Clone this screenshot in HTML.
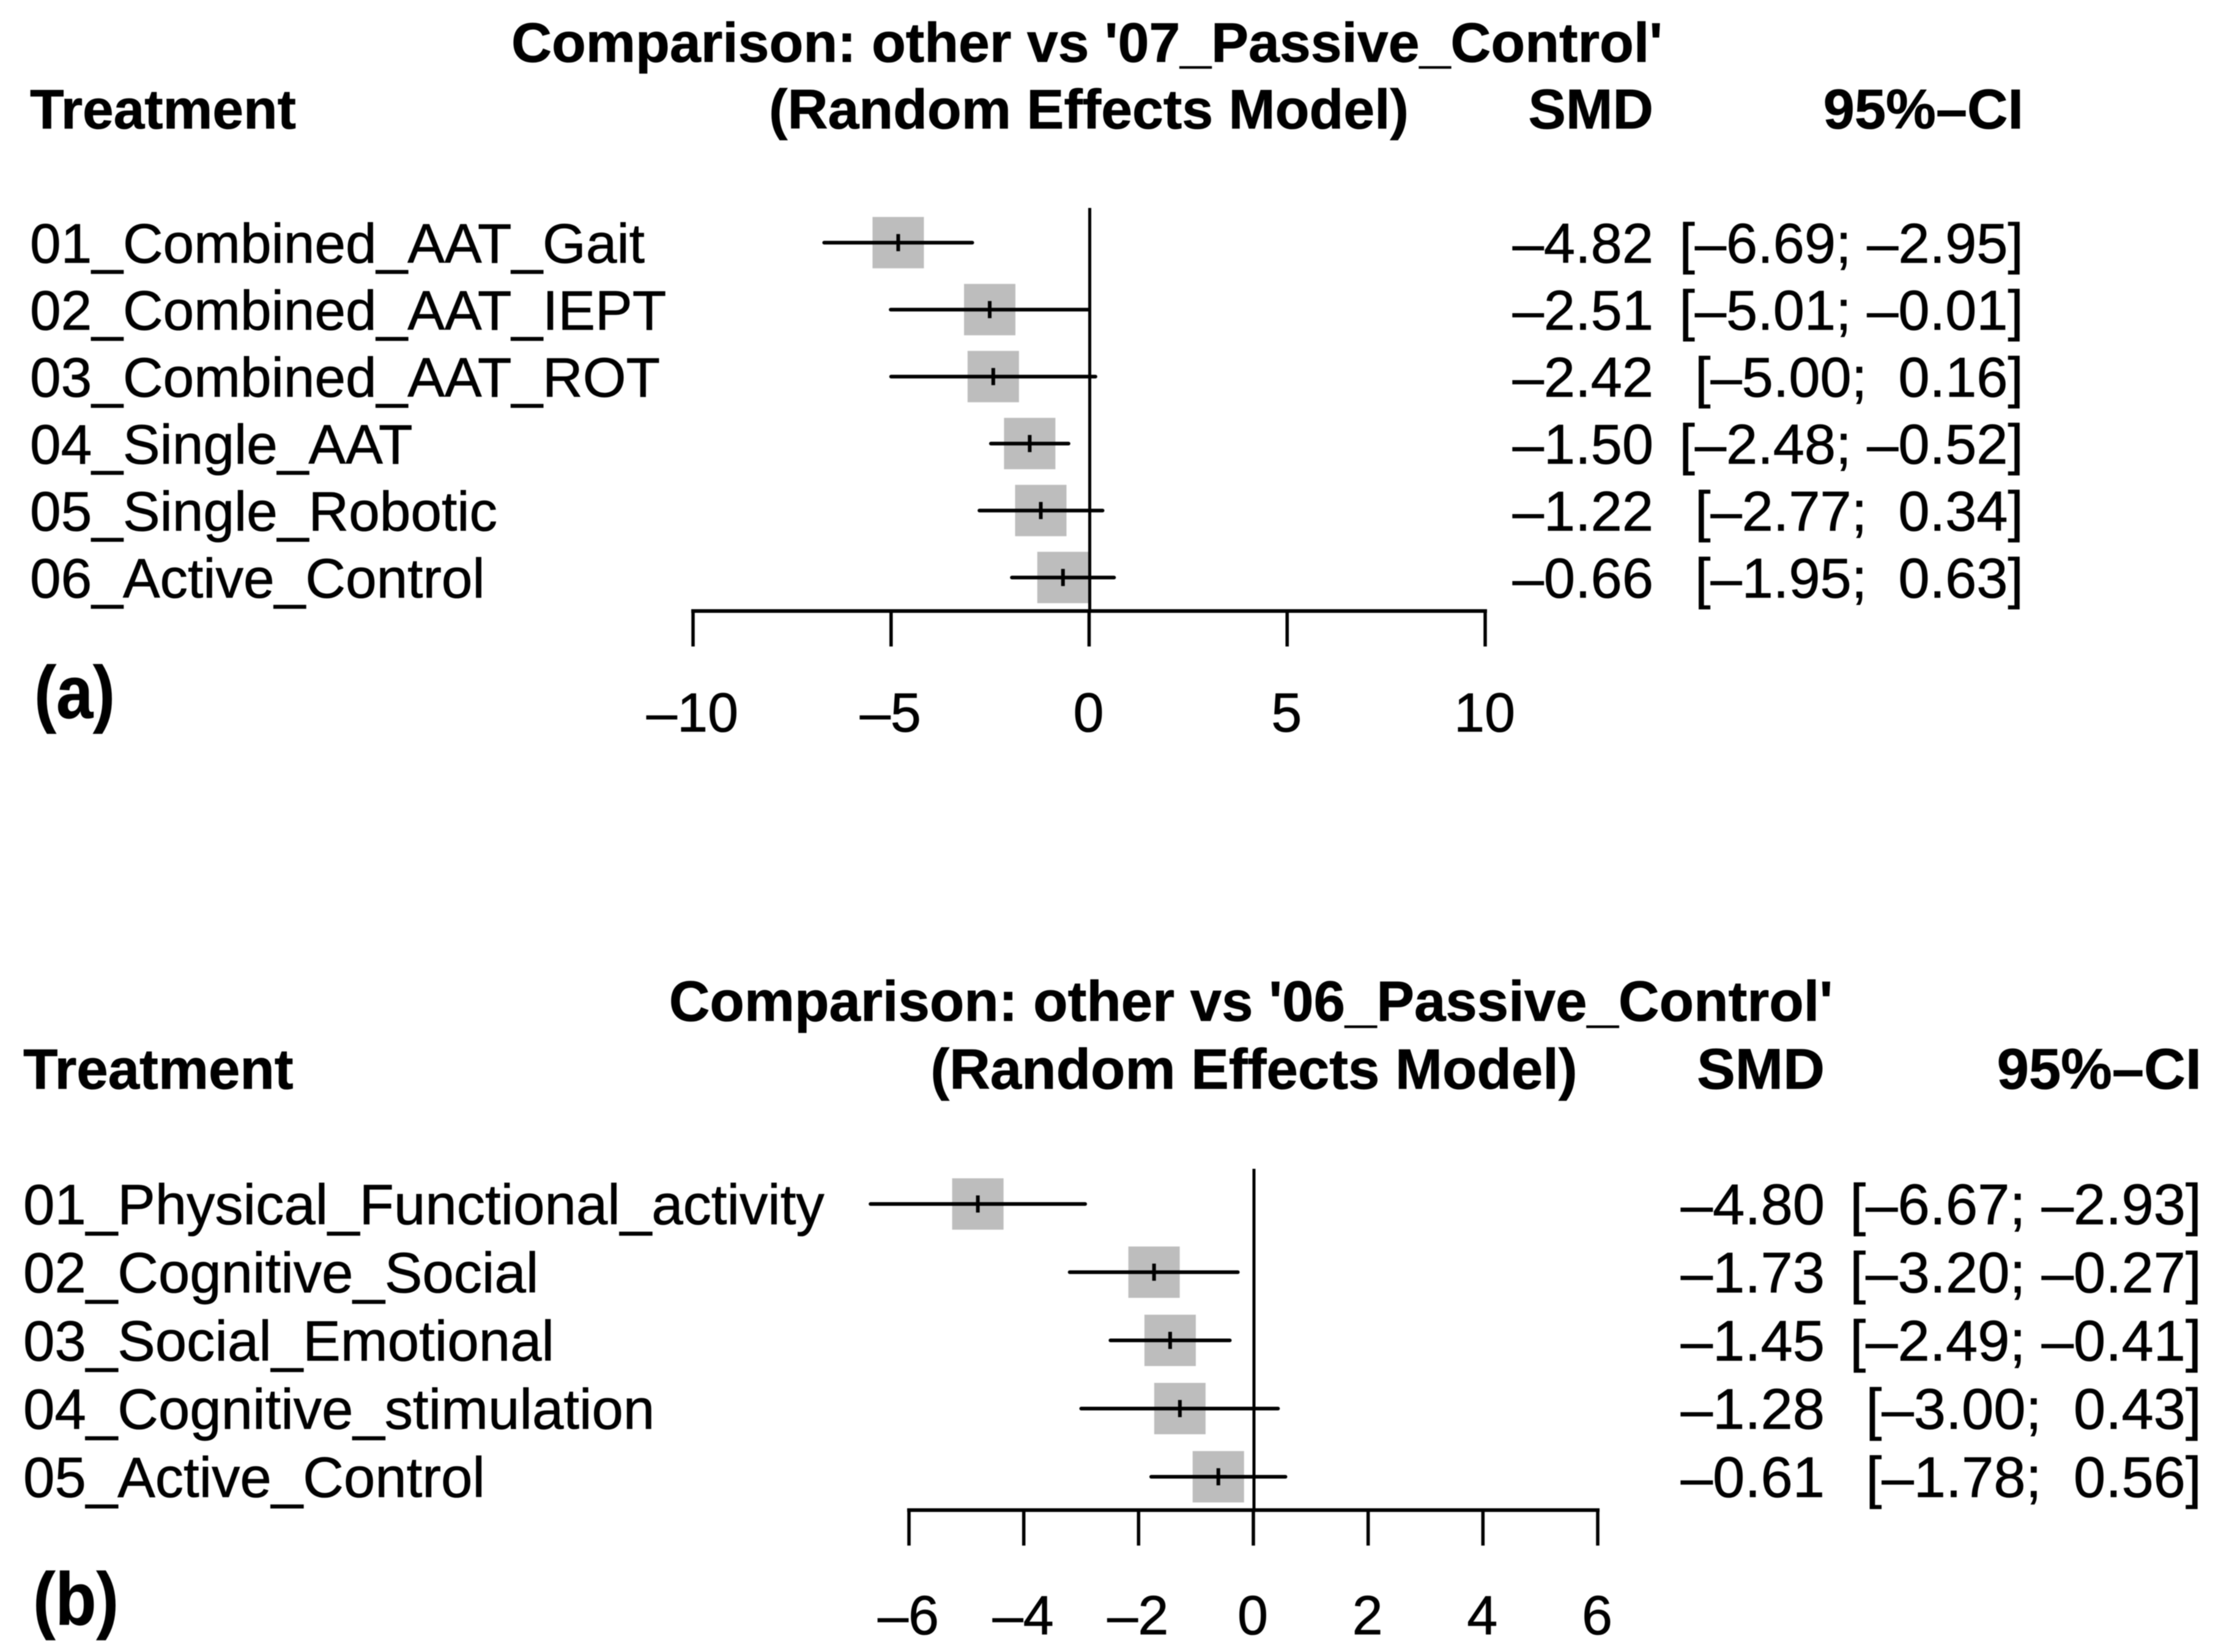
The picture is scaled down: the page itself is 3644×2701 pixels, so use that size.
<!DOCTYPE html>
<html lang="en">
<head>
<meta charset="utf-8">
<title>Network meta-analysis forest plots</title>
<style>
html,body{margin:0;padding:0;background:#fff;}
svg{display:block;filter:blur(0.9px);}
text{font-family:"Liberation Sans",Arial,sans-serif;fill:#000;stroke:#000;stroke-width:0.8px;white-space:pre;}
</style>
</head>
<body>
<svg id="figure" xmlns="http://www.w3.org/2000/svg" width="3644" height="2701" viewBox="0 0 3644 2701">
<rect x="0" y="0" width="3644" height="2701" fill="#fff"/>
<g id="panel-a"></g>
<g id="panel-b"></g>
</svg>
<script>
// Panel (a) data
const treatmentsA = ["01_Combined_AAT_Gait", "02_Combined_AAT_IEPT", "03_Combined_AAT_ROT", "04_Single_AAT", "05_Single_Robotic", "06_Active_Control"];
const smdA = [-4.82, -2.51, -2.42, -1.50, -1.22, -0.66];
const lowerA = [-6.69, -5.01, -5.00, -2.48, -2.77, -1.95];
const upperA = [-2.95, -0.01, 0.16, -0.52, 0.34, 0.63];
const ticksA = [-10, -5, 0, 5, 10];

// Panel (b) data
const treatmentsB = ["01_Physical_Functional_activity", "02_Cognitive_Social", "03_Social_Emotional", "04_Cognitive_stimulation", "05_Active_Control"];
const smdB = [-4.80, -1.73, -1.45, -1.28, -0.61];
const lowerB = [-6.67, -3.20, -2.49, -3.00, -1.78];
const upperB = [-2.93, -0.27, -0.41, 0.43, 0.56];
const ticksB = [-6, -4, -2, 0, 2, 4, 6];

const SVG_NS = "http://www.w3.org/2000/svg";

function fmt(v, digits) {
  const s = Math.abs(v).toFixed(digits);
  return (v < 0 ? "\u2013" : "") + s;
}

function addText(parent, name, x, y, str, anchor, weight, size) {
  const el = document.createElementNS(SVG_NS, "text");
  
  
  el.setAttribute("x", x);
  el.setAttribute("y", y);
  el.setAttribute("text-anchor", anchor);
  el.setAttribute("font-weight", weight);
  el.setAttribute("font-size", size);
  el.setAttribute("xml:space", "preserve");
  el.textContent = str;
  parent.appendChild(el);
  return el;
}

function addLine(parent, name, x1, y1, x2, y2, width, cap) {
  const el = document.createElementNS(SVG_NS, "line");
  
  
  el.setAttribute("x1", x1);
  el.setAttribute("y1", y1);
  el.setAttribute("x2", x2);
  el.setAttribute("y2", y2);
  el.setAttribute("stroke", "#000");
  el.setAttribute("stroke-width", width);
  el.setAttribute("stroke-linecap", cap);
  parent.appendChild(el);
  return el;
}

function drawPanel(p) {
  const g = p.group;
  const span = p.ticks[p.ticks.length - 1] - p.ticks[0];
  const xScale = v => p.axisLeft + (v - p.ticks[0]) * (p.axisRight - p.axisLeft) / span;
  const yScale = i => p.firstRow + i * p.rowPitch;
  const SQ = 84;

  addText(g, "chart-title", p.titleX, p.titleY, p.title, "middle", "bold", p.titleSize);
  addText(g, "model-subtitle", p.subtitleX, p.headerY, "(Random Effects Model)", "middle", "bold", p.titleSize);
  addText(g, "treatment-column-header", p.labelX, p.headerY, "Treatment", "start", "bold", p.labelSize);
  addText(g, "smd-column-header", p.smdRight, p.headerY, "SMD", "end", "bold", p.valueSize);
  addText(g, "ci-column-header", p.ciRight, p.headerY, "95%\u2013CI", "end", "bold", p.valueSize);

  // effect squares
  p.smd.forEach((v, i) => {
    const r = document.createElementNS(SVG_NS, "rect");
    
    
    r.setAttribute("x", xScale(v) - SQ / 2);
    r.setAttribute("y", yScale(i) - SQ / 2);
    r.setAttribute("width", SQ);
    r.setAttribute("height", SQ);
    r.setAttribute("fill", "#bdbdbd");
    g.appendChild(r);
  });

  // reference line at zero
  addLine(g, "zero-reference-line", xScale(0) + 1, p.refTop, xScale(0) + 1, p.axisY, 5, "butt");

  // axis
  addLine(g, "x-axis-line", xScale(p.ticks[0]), p.axisY, xScale(p.ticks[p.ticks.length - 1]), p.axisY, 6, "square");
  p.ticks.forEach(t => {
    addLine(g, "x-axis-tick-" + t, xScale(t), p.axisY, xScale(t), p.axisY + 58, 5.5, "butt");
    addText(g, "x-axis-label-" + t, xScale(t) - 1, p.tickLabelY, fmt(t, 0), "middle", "normal", 90);
  });

  // rows
  p.treatments.forEach((name, i) => {
    const y = yScale(i);
    const base = y + 33;
    addText(g, "treatment-label-" + (i + 1), p.labelX, base, name, "start", "normal", p.labelSize);
    addLine(g, "confidence-interval-" + (i + 1), xScale(p.lower[i]), y, xScale(p.upper[i]), y, 6, "round");
    addLine(g, "effect-mark-" + (i + 1), xScale(p.smd[i]), y - 14, xScale(p.smd[i]), y + 14, 6, "butt");
    addText(g, "smd-value-" + (i + 1), p.smdRight, base, fmt(p.smd[i], 2), "end", "normal", p.valueSize);
    const gap = p.upper[i] < 0 ? " " : "  ";
    const ci = "[" + fmt(p.lower[i], 2) + ";" + gap + fmt(p.upper[i], 2) + "]";
    addText(g, "ci-value-" + (i + 1), p.ciRight, base, ci, "end", "normal", p.valueSize);
  });

  const tag = addText(g, "panel-tag", p.tagX, p.tagY, p.tag, "start", "bold", 122);
  tag.setAttribute("textLength", p.tagWidth);
  tag.setAttribute("lengthAdjust", "spacingAndGlyphs");
}

drawPanel({
  group: document.getElementById("panel-a"),
  title: "Comparison: other vs '07_Passive_Control'",
  tag: "(a)", tagX: 56, tagY: 1174, tagWidth: 132,
  treatments: treatmentsA, smd: smdA, lower: lowerA, upper: upperA, ticks: ticksA,
  axisLeft: 1133, axisRight: 2428, axisY: 999,
  firstRow: 396.7, rowPitch: 109.5, refTop: 340,
  titleX: 1777, subtitleX: 1780, titleY: 101, headerY: 210, tickLabelY: 1196,
  labelX: 49, smdRight: 2703, ciRight: 3308,
  titleSize: 91.4, labelSize: 91, valueSize: 92
});

drawPanel({
  group: document.getElementById("panel-b"),
  title: "Comparison: other vs '06_Passive_Control'",
  tag: "(b)", tagX: 54, tagY: 2656, tagWidth: 140,
  treatments: treatmentsB, smd: smdB, lower: lowerB, upper: upperB, ticks: ticksB,
  axisLeft: 1486, axisRight: 2612, axisY: 2469,
  firstRow: 1968.5, rowPitch: 111.5, refTop: 1911,
  titleX: 2045, subtitleX: 2050, titleY: 1669, headerY: 1780, tickLabelY: 2672,
  labelX: 38, smdRight: 2983, ciRight: 3599,
  titleSize: 92.4, labelSize: 92.4, valueSize: 94
});
</script>
</body>
</html>
